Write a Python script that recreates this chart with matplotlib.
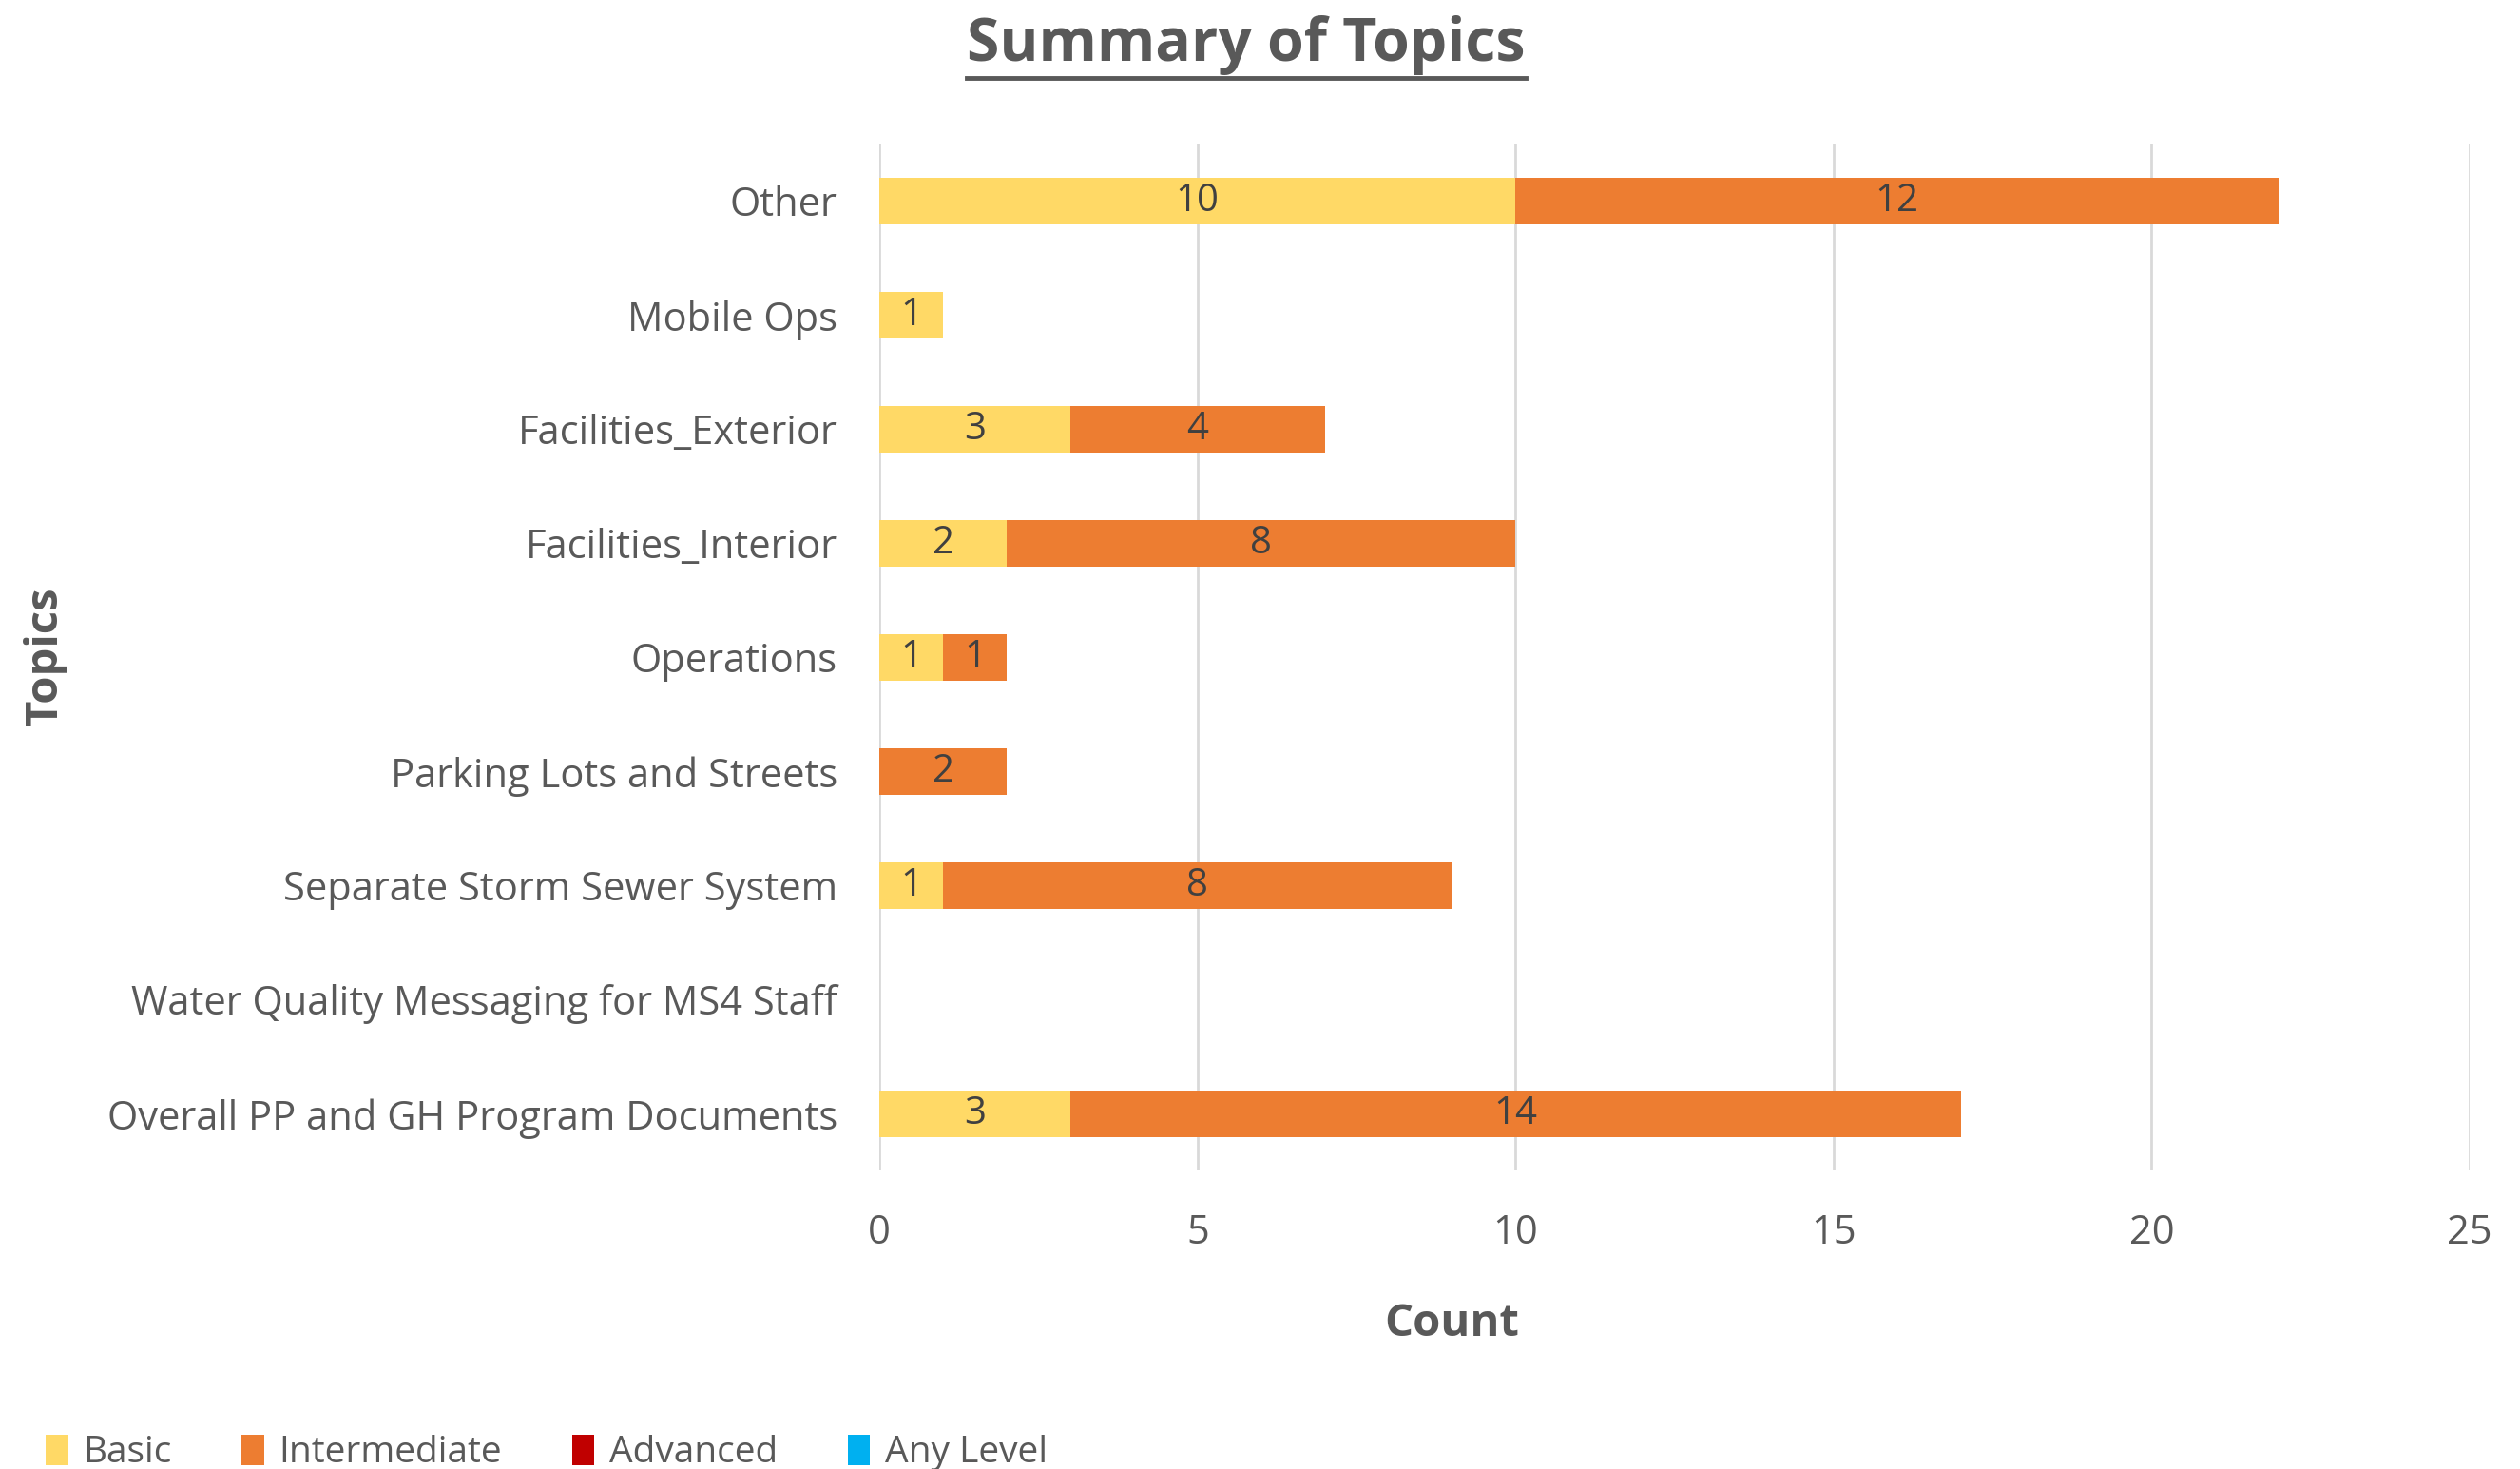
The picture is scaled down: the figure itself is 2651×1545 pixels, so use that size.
import matplotlib
matplotlib.use("Agg")
import matplotlib.pyplot as plt
import numpy as np

plt.rcParams['font.family'] = ['Open Sans', 'DejaVu Sans']

topics = ['Other', 'Mobile Ops', 'Facilities_Exterior', 'Facilities_Interior', 'Operations',
          'Parking Lots and Streets', 'Separate Storm Sewer System',
          'Water Quality Messaging for MS4 Staff', 'Overall PP and GH Program Documents']
basic = [10, 1, 3, 2, 1, 0, 1, 0, 3]
intermediate = [12, 0, 4, 8, 1, 2, 8, 0, 14]
advanced = [0, 0, 0, 0, 0, 0, 0, 0, 0]
any_level = [0, 0, 0, 0, 0, 0, 0, 0, 0]

series = [('Basic', basic, '#FFD966'),
          ('Intermediate', intermediate, '#ED7D31'),
          ('Advanced', advanced, '#C00000'),
          ('Any Level', any_level, '#00B0F0')]

text_col = '#595959'

fig = plt.figure(figsize=(26.51, 15.45), dpi=100)
ax = fig.add_axes([0.349, 0.203, 0.631, 0.699])

y = np.arange(len(topics))
left = np.zeros(len(topics))
for name, vals, col in series:
    vals = np.array(vals, dtype=float)
    bars = ax.barh(y, vals, left=left, height=0.41, color=col, label=name, zorder=3)
    for b, v in zip(bars, vals):
        if v > 0:
            ax.text(b.get_x() + b.get_width() / 2, b.get_y() + b.get_height() / 2, f'{int(v)}',
                    ha='center', va='center', fontsize=29, color='#404040', zorder=4)
    left += vals

ax.set_ylim(len(topics) - 0.5, -0.5)
ax.set_xlim(0, 25)
ax.set_xticks([0, 5, 10, 15, 20, 25])
ax.set_yticks(y)
ax.set_yticklabels(topics)
ax.tick_params(axis='both', length=0, labelsize=30, colors=text_col)
ax.tick_params(axis='y', pad=32)
ax.tick_params(axis='x', pad=32)
ax.grid(axis='x', color='#D9D9D9', linewidth=2, zorder=0)
for s in ax.spines.values():
    s.set_visible(False)

fig.text(0.576, 0.099, 'Count', ha='center', va='center',
         fontsize=34, fontweight='bold', color=text_col)
fig.text(0.018, 0.553, 'Topics', rotation=90, ha='center', va='center',
         fontsize=34, fontweight='bold', color=text_col)

title = fig.text(0.4945, 0.969, 'Summary of Topics', ha='center', va='center',
                 fontsize=45, fontweight='bold', color=text_col)
fig.canvas.draw()
bb = title.get_window_extent().transformed(fig.transFigure.inverted())
fig.add_artist(plt.Line2D([bb.x0, bb.x1], [bb.y0 - 0.002, bb.y0 - 0.002],
                          transform=fig.transFigure, color=text_col, linewidth=3.5))

fig.legend(loc='lower left', bbox_to_anchor=(0.005, -0.024), ncol=4, frameon=False,
           fontsize=28, labelcolor=text_col, handlelength=0.6, handleheight=0.9,
           handletextpad=0.4, columnspacing=1.9)

fig.savefig('out.png', dpi=100)
